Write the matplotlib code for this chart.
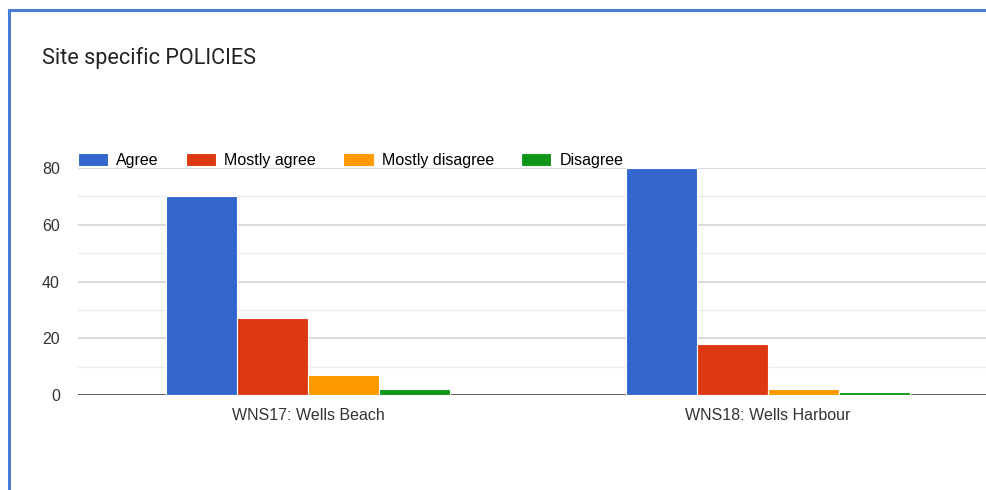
import matplotlib.pyplot as plt
import numpy as np

plt.rcParams['font.family'] = ['Liberation Sans', 'DejaVu Sans']

sites = ["WNS17: Wells Beach", "WNS18: Wells Harbour"]
answers = ["Agree", "Mostly agree", "Mostly disagree", "Disagree"]
agree = [70, 80]
mostly_agree = [27, 18]
mostly_disagree = [7, 2]
disagree = [2, 1]
colors = ["#3366cc", "#dc3912", "#ff9900", "#109618"]
yticks = [0, 20, 40, 60, 80]

series = [agree, mostly_agree, mostly_disagree, disagree]

fig = plt.figure(figsize=(9.86, 4.9), dpi=100)
# plot area runs past the right edge of the figure
ax = fig.add_axes([78/986, 95/490, 920/986, 227/490])

x = np.arange(len(sites))
w = 0.154
for i, vals in enumerate(series):
    ax.bar(x + (i - 1.5) * w, vals, width=w, color=colors[i],
           edgecolor="white", linewidth=0.8, zorder=3, label=answers[i])

ax.set_xlim(-0.5, 1.5)
ax.set_ylim(0, 80)
ax.set_yticks(yticks)
ax.set_yticks([10, 30, 50, 70], minor=True)
ax.grid(axis="y", which="major", color="#d4d4d4", linewidth=1.2, zorder=0)
ax.grid(axis="y", which="minor", color="#ececec", linewidth=1.0, zorder=0)
ax.axhline(0, color="#555555", linewidth=1.3, zorder=2.5)
for s in ax.spines.values():
    s.set_visible(False)
ax.tick_params(axis="both", which="both", length=0, labelsize=11.5, colors="#333333")
ax.tick_params(axis="y", pad=13)
ax.tick_params(axis="x", pad=9)
ax.set_xticks(x)
ax.set_xticklabels(sites)

# legend row above the plot
leg = ax.legend(loc="lower left", bbox_to_anchor=(0.0, 1.0), ncol=4,
                frameon=False, fontsize=11.5, handlelength=1.9, handleheight=0.95,
                handletextpad=0.5, columnspacing=1.7, borderaxespad=0,
                borderpad=0)

fig.text(42/986, 1 - 58/490, "Site specific POLICIES", fontsize=15.6,
         color="#222222", va="center", family=["Roboto", "DejaVu Sans"])

# card border
fig.add_artist(plt.Line2D([9/986, 9/986], [0, 1 - 10/490], color="#4a7bd4",
                          linewidth=2.2, transform=fig.transFigure))
fig.add_artist(plt.Line2D([9/986, 1], [1 - 10/490, 1 - 10/490], color="#4a7bd4",
                          linewidth=2.2, transform=fig.transFigure))

fig.savefig("out.png", dpi=100)
